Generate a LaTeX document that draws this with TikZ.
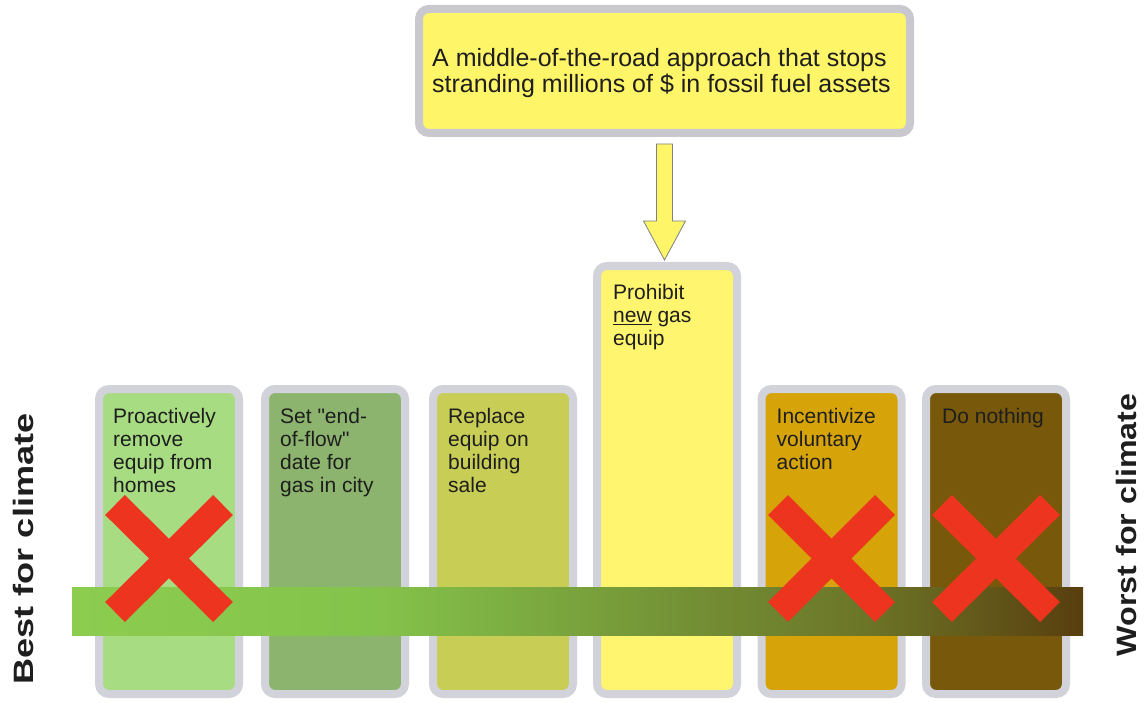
\documentclass[tikz,border=0pt]{standalone}
\usepackage{fontspec}
\setmainfont{Liberation Sans}[Ligatures=TeXOff]
\usetikzlibrary{calc}
\definecolor{boxgray}{RGB}{210,210,218}
\definecolor{topgray}{RGB}{200,200,206}
\definecolor{txt}{RGB}{30,30,30}
\definecolor{cA}{RGB}{168,220,130}
\definecolor{cB}{RGB}{140,180,110}
\definecolor{cC}{RGB}{200,205,85}
\definecolor{cD}{RGB}{255,245,110}
\definecolor{cE}{RGB}{214,164,8}
\definecolor{cF}{RGB}{120,88,10}
\definecolor{topyellow}{RGB}{255,245,105}
\definecolor{xred}{RGB}{236,52,30}
\definecolor{barA}{RGB}{140,205,80}
\definecolor{barB}{RGB}{132,195,75}
\definecolor{barC}{RGB}{122,166,62}
\definecolor{barD}{RGB}{115,142,52}
\definecolor{barE}{RGB}{108,118,40}
\definecolor{barF}{RGB}{102,98,30}
\definecolor{barG}{RGB}{88,62,14}
\pgfdeclarehorizontalshading{barshade}{100bp}{color(0bp)=(barA); color(25bp)=(barA); color(40bp)=(barB); color(49bp)=(barC); color(56bp)=(barD); color(64bp)=(barE); color(68bp)=(barF); color(75bp)=(barG); color(100bp)=(barG)}
\begin{document}
\begin{tikzpicture}[x=1pt,y=-1pt,
  box/.style={draw=boxgray, line width=8pt, rounded corners=10pt, minimum width=140pt, inner sep=0pt, outer sep=0pt},
  shortbox/.style={box, minimum height=305pt},
  tallbox/.style={box, minimum height=428pt},
  lbl/.style={anchor=north west, inner sep=0pt, align=left, font=\fontsize{21}{23}\selectfont, text=txt},
  xmark/.style={draw=xred, line width=28pt},
  sidelbl/.style={rotate=90, anchor=base, inner sep=0pt, text=txt, font=\bfseries\fontsize{28}{30}\selectfont},
  arrowshape/.style={fill=topyellow, draw=gray, line width=0.8pt}
]
\useasboundingbox (0,0) rectangle (1145,703);
% top box
\node[draw=topgray, fill=topyellow, line width=8pt, rounded corners=10pt, minimum width=491pt, minimum height=124pt, inner sep=0pt, outer sep=0pt] (top) at (664.5,71) {};
\node[anchor=north west, inner sep=0pt, align=left, text=txt, font=\fontsize{25}{26.5}\selectfont] (toptext) at (432,47.8)
  {A middle-of-the-road approach that stops\\stranding millions of \$ in fossil fuel assets};
% option boxes
\node[shortbox, fill=cA] (b1) at (169,541.5) {};
\node[shortbox, fill=cB] (b2) at (335,541.5) {};
\node[shortbox, fill=cC] (b3) at (503,541.5) {};
\node[tallbox,  fill=cD] (b4) at (667,480) {};
\node[shortbox, fill=cE] (b5) at (831.5,541.5) {};
\node[shortbox, fill=cF] (b6) at (996,541.5) {};
\node[lbl] (t1) at ($(b1.north west)+(14,19)$) {Proactively\\remove\\equip from\\homes};
\node[lbl] (t2) at ($(b2.north west)+(15,19)$) {Set "end-\\of-flow"\\date for\\gas in city};
\node[lbl] (t3) at ($(b3.north west)+(15,19)$) {Replace\\equip on\\building\\sale};
\node[lbl] (t4) at ($(b4.north west)+(16,18)$) {Prohibit\\\underline{new} gas\\equip};
\node[lbl] (t5) at ($(b5.north west)+(15,19)$) {Incentivize\\voluntary\\action};
\node[lbl] (t6) at ($(b6.north west)+(16,19)$) {Do nothing};
% arrow from top box to the prohibit box
\coordinate (as) at ($(top.south)+(0,11)$);
\draw[arrowshape, shift={(as)}] (-8,0) -- (8,0) -- (8,77) -- (21,77) -- (0,116) -- (-21,77) -- (-8,77) -- cycle;
% gradient bar
\shade[shading=barshade] (72,587) rectangle (1083,635);
% crosses
\draw[xmark] (115,505) -- (223,612);
\draw[xmark] (223,505) -- (115,612);
\draw[xmark] (778,505) -- (885,612);
\draw[xmark] (885,505) -- (778,612);
\draw[xmark] (942,505) -- (1050,612);
\draw[xmark] (1050,505) -- (942,612);
% side labels
\node[sidelbl] (best) at (33,549) {\scalebox{1.29}[1]{Best for climate}};
\node[sidelbl] (worst) at (1136,525) {\scalebox{1.15}[1]{Worst for climate}};
\end{tikzpicture}
\end{document}
